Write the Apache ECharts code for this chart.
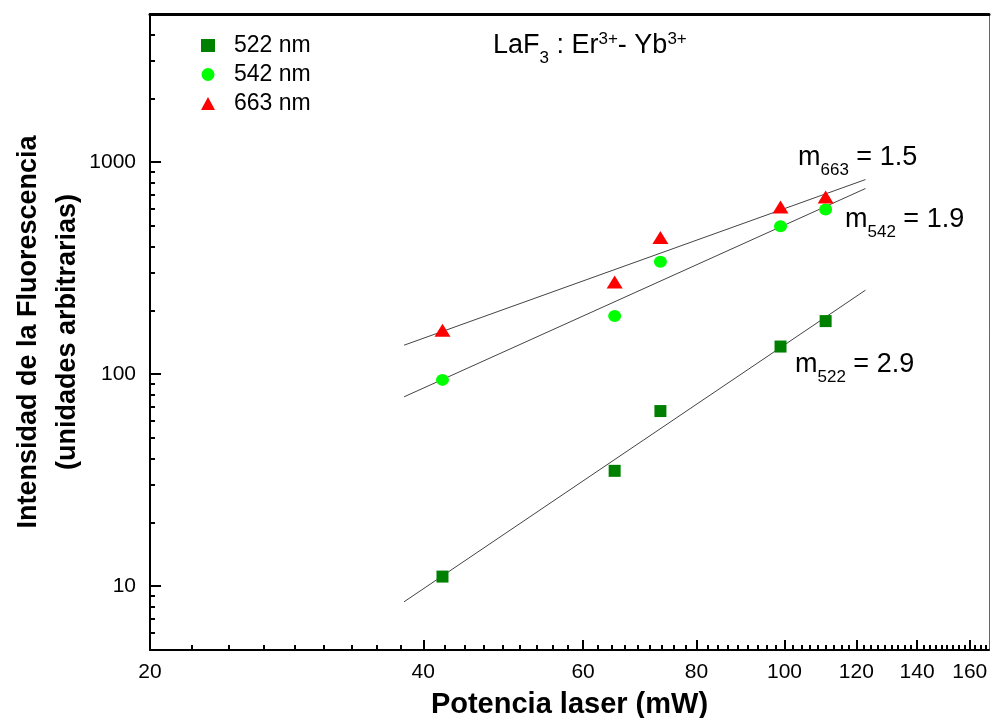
<!DOCTYPE html>
<html>
<head>
<meta charset="utf-8">
<script src="https://cdn.jsdelivr.net/npm/echarts@6/dist/echarts.min.js"></script>
<style>
html,body{margin:0;padding:0;background:#fff;}
#chart{width:994px;height:718px;}
</style>
</head>
<body>
<div id="chart"></div>
<script>
// ---- data ----
const power = [42, 65, 73, 99, 111];            // mW
const i522 = [11.1, 35, 67, 135, 178];
const i542 = [94, 188, 339, 499, 598];
const i663 = [161, 272, 441, 615, 686];
// fitted lines (end points)
const fitX = [38.1, 122.8];
const fit522 = [8.44, 249];
const fit542 = [78.2, 751];
const fit663 = [137, 828];
// tick labels
const xMajor = [20, 40, 60, 80, 100, 120, 140, 160];
const yMajor = [10, 100, 1000];

const X_MIN = 20, X_MAX = 168, Y_MIN = 5, Y_MAX = 5000;

const xMinor = [];
for (let i = 0; i < xMajor.length; i++) {
  for (let k = 1; k <= 8; k++) {
    const v = xMajor[i] + k * 20 / 9;
    if (v < X_MAX) xMinor.push(v);
  }
}
const yMinor = [];
[1, 10, 100, 1000].forEach(function (d) {
  for (let k = 2; k <= 9; k++) {
    const v = k * d;
    if (v > Y_MIN && v < Y_MAX) yMinor.push(v);
  }
});

const pairs = (xs, ys) => xs.map((x, i) => [x, ys[i]]);
const FONT = '"Liberation Sans", Arial, sans-serif';

const chart = echarts.init(document.getElementById('chart'), null, {renderer: 'canvas'});

const fitStyle = {color: '#444', width: 1};

chart.setOption({
  animation: false,
  backgroundColor: '#fff',
  textStyle: {fontFamily: FONT, color: '#000'},
  grid: {left: 150, right: 5, top: 14, bottom: 68, containLabel: false, outerBoundsMode: 'none'},
  legend: {
    data: ['522 nm', '542 nm', '663 nm'],
    orient: 'vertical',
    left: 196, top: 29,
    itemWidth: 14, itemHeight: 13, itemGap: 6,
    textStyle: {fontSize: 23, color: '#000', fontFamily: FONT, padding: [0, 0, 0, 14]}
  },
  xAxis: [
    {
      type: 'log', logBase: 10, min: X_MIN, max: X_MAX, position: 'bottom',
      axisLine: {show: true, lineStyle: {color: '#000', width: 2}},
      axisTick: {show: true, inside: true, length: 10, customValues: xMajor, lineStyle: {color: '#000', width: 2}},
      axisLabel: {show: true, customValues: xMajor, fontSize: 21, color: '#000', margin: 12, fontFamily: FONT,
                  formatter: v => String(Math.round(v))},
      splitLine: {show: false},
      name: 'Potencia laser (mW)', nameLocation: 'middle', nameGap: 40, nameMoveOverlap: false,
      nameTextStyle: {fontSize: 29, fontWeight: 'bold', color: '#000', fontFamily: FONT}
    },
    {
      type: 'log', logBase: 10, min: X_MIN, max: X_MAX, position: 'bottom',
      axisLine: {show: false},
      axisTick: {show: true, inside: true, length: 5, customValues: xMinor, lineStyle: {color: '#000', width: 2}},
      axisLabel: {show: false},
      splitLine: {show: false}
    },
    {
      type: 'log', logBase: 10, min: X_MIN, max: X_MAX, position: 'top',
      axisLine: {show: true, lineStyle: {color: '#000', width: 3}},
      axisTick: {show: false}, axisLabel: {show: false}, splitLine: {show: false}
    }
  ],
  yAxis: [
    {
      type: 'log', logBase: 10, min: Y_MIN, max: Y_MAX, position: 'left',
      axisLine: {show: true, lineStyle: {color: '#000', width: 2}},
      axisTick: {show: true, inside: true, length: 11, customValues: yMajor, lineStyle: {color: '#000', width: 2}},
      axisLabel: {show: true, customValues: yMajor, fontSize: 21, color: '#000', margin: 14, fontFamily: FONT,
                  formatter: v => String(Math.round(v))},
      splitLine: {show: false},
      name: 'Intensidad de la Fluorescencia\n(unidades arbitrarias)', nameLocation: 'middle', nameGap: 63,
      nameMoveOverlap: false,
      nameTextStyle: {fontSize: 27, fontWeight: 'bold', color: '#000', lineHeight: 39, fontFamily: FONT}
    },
    {
      type: 'log', logBase: 10, min: Y_MIN, max: Y_MAX, position: 'left',
      axisLine: {show: false},
      axisTick: {show: true, inside: true, length: 5, customValues: yMinor, lineStyle: {color: '#000', width: 2}},
      axisLabel: {show: false},
      splitLine: {show: false}
    },
    {
      type: 'log', logBase: 10, min: Y_MIN, max: Y_MAX, position: 'right',
      axisLine: {show: true, lineStyle: {color: '#666', width: 1}},
      axisTick: {show: false}, axisLabel: {show: false}, splitLine: {show: false}
    }
  ],
  series: [
    {type: 'line', data: pairs(fitX, fit522), showSymbol: false, silent: true, lineStyle: fitStyle, z: 1},
    {type: 'line', data: pairs(fitX, fit542), showSymbol: false, silent: true, lineStyle: fitStyle, z: 1},
    {type: 'line', data: pairs(fitX, fit663), showSymbol: false, silent: true, lineStyle: fitStyle, z: 1},
    {name: '522 nm', type: 'scatter', symbol: 'rect', symbolSize: 12, data: pairs(power, i522),
     itemStyle: {color: '#008000', opacity: 1}, z: 3},
    {name: '542 nm', type: 'scatter', symbol: 'circle', symbolSize: [13, 12], data: pairs(power, i542),
     itemStyle: {color: '#00ff00', opacity: 1}, z: 3},
    {name: '663 nm', type: 'scatter', symbol: 'triangle', symbolSize: [16, 13], data: pairs(power, i663),
     itemStyle: {color: '#ff0000', opacity: 1}, z: 3}
  ],
  graphic: [
    {type: 'text', x: 493, y: 46, style: {
      text: '{a|LaF}{sub|3}{a| : Er}{sup|3+}{a|- Yb}{sup|3+}',
      verticalAlign: 'middle', align: 'left', fill: '#000',
      rich: {
        a: {fontSize: 27, fontFamily: FONT, fill: '#000'},
        sub: {fontSize: 17, fontFamily: FONT, fill: '#000', padding: [24, 0, 0, 0]},
        sup: {fontSize: 17, fontFamily: FONT, fill: '#000', padding: [0, 0, 14, 0]}
      }}},
    {type: 'text', x: 798, y: 158, style: {
      text: '{a|m}{sub|663}{a| = 1.5}', verticalAlign: 'middle', align: 'left',
      rich: {
        a: {fontSize: 27, fontFamily: FONT, fill: '#000'},
        sub: {fontSize: 17, fontFamily: FONT, fill: '#000', padding: [24, 0, 0, 0]}
      }}},
    {type: 'text', x: 845, y: 220, style: {
      text: '{a|m}{sub|542}{a| = 1.9}', verticalAlign: 'middle', align: 'left',
      rich: {
        a: {fontSize: 27, fontFamily: FONT, fill: '#000'},
        sub: {fontSize: 17, fontFamily: FONT, fill: '#000', padding: [24, 0, 0, 0]}
      }}},
    {type: 'text', x: 795, y: 365, style: {
      text: '{a|m}{sub|522}{a| = 2.9}', verticalAlign: 'middle', align: 'left',
      rich: {
        a: {fontSize: 27, fontFamily: FONT, fill: '#000'},
        sub: {fontSize: 17, fontFamily: FONT, fill: '#000', padding: [24, 0, 0, 0]}
      }}}
  ]
});
</script>
</body>
</html>
